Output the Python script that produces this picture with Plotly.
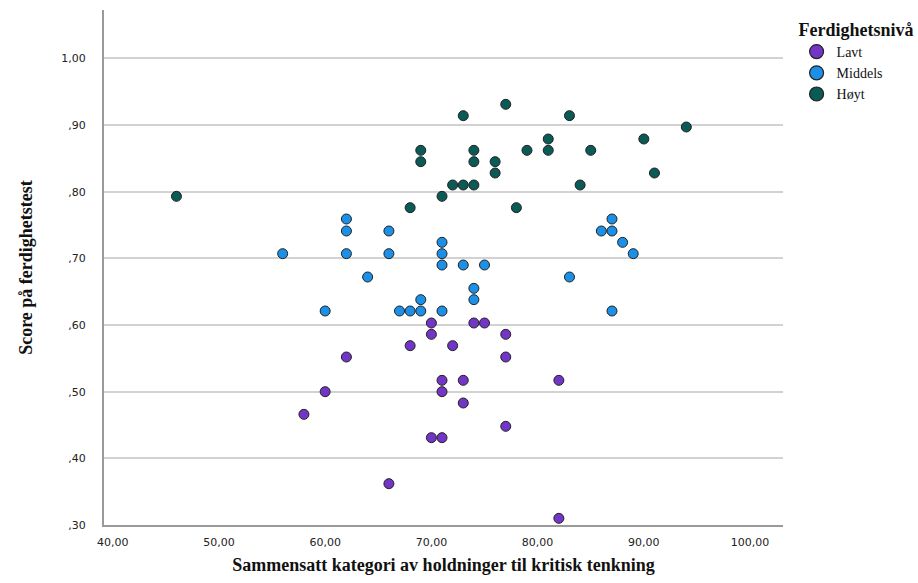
import plotly.graph_objects as go

# ---- data ----
lavt_x = [70, 74, 75, 70, 77, 68, 72, 62, 77, 71, 73, 82, 60, 71, 73, 58, 77, 70, 71, 66, 82]
lavt_y = [.603, .603, .603, .586, .586, .569, .569, .552, .552, .517, .517, .517, .500, .500,
          .483, .466, .448, .431, .431, .362, .310]

middels_x = [62, 62, 66, 71, 56, 62, 66, 71, 71, 73, 75, 64, 74, 74, 69, 60, 67, 68, 69, 71,
             87, 86, 87, 88, 89, 83, 87]
middels_y = [.759, .741, .741, .724, .707, .707, .707, .707, .690, .690, .690, .672, .655, .638,
             .638, .621, .621, .621, .621, .621, .759, .741, .741, .724, .707, .672, .621]

hoyt_x = [77, 73, 83, 94, 81, 90, 69, 74, 79, 81, 85, 69, 74, 76, 76, 91, 72, 73, 74, 84,
          46, 71, 68, 78]
hoyt_y = [.931, .914, .914, .897, .879, .879, .862, .862, .862, .862, .862, .845, .845, .845,
          .828, .828, .810, .810, .810, .810, .793, .793, .776, .776]

groups = ["Lavt", "Middels", "Høyt"]
colors = ["#7235C6", "#1C8FE6", "#0A5A55"]

x_ticks = [40, 50, 60, 70, 80, 90, 100]
x_ticklabels = ["40,00", "50,00", "60,00", "70,00", "80,00", "90,00", "100,00"]
y_ticks = [0.3, 0.4, 0.5, 0.6, 0.7, 0.8, 0.9, 1.0]
y_ticklabels = [",30", ",40", ",50", ",60", ",70", ",80", ",90", "1,00"]

serif = "Times New Roman, Liberation Serif, DejaVu Serif, serif"
sans = "DejaVu Sans"

fig = go.Figure()
series = [(lavt_x, lavt_y), (middels_x, middels_y), (hoyt_x, hoyt_y)]
for name, col, (xs, ys) in zip(groups, colors, series):
    fig.add_trace(go.Scatter(
        x=xs, y=ys, mode="markers", name=name, legendgroup=name, showlegend=False,
        marker=dict(size=10, color=col, line=dict(color="#222222", width=1)),
        hoverinfo="x+y+name"))
    # legend-only entry with a larger symbol, as in the reference legend
    fig.add_trace(go.Scatter(
        x=[None], y=[None], mode="markers", name=name, legendgroup=name, showlegend=True,
        marker=dict(size=14, color=col, line=dict(color="#222222", width=1.2))))

fig.update_layout(
    width=918, height=583,
    margin=dict(l=104, r=135, t=10, b=58, autoexpand=False),
    paper_bgcolor="white", plot_bgcolor="white",
    showlegend=True,
    font=dict(family=serif),
    legend=dict(
        x=1.02, y=0.995, xanchor="left", yanchor="top",
        title=dict(text="<b>Ferdighetsnivå</b>", font=dict(family=serif, size=18, color="#111")),
        font=dict(family=serif, size=14, color="#111"),
        tracegroupgap=0, itemwidth=30, bgcolor="rgba(0,0,0,0)",
    ),
    xaxis=dict(
        range=[39.18, 103.1], tickvals=x_ticks, ticktext=x_ticklabels,
        showgrid=False, zeroline=False, showline=True, linecolor="#9a9a9a", linewidth=2,
        ticks="", tickfont=dict(family=sans, size=11, color="#222"),
        ticklabelstandoff=6,
        title=dict(text="<b>Sammensatt kategori av holdninger til kritisk tenkning</b>",
                   font=dict(family=serif, size=18, color="#111"), standoff=10),
    ),
    yaxis=dict(
        range=[0.30, 1.0725], tickvals=y_ticks, ticktext=y_ticklabels,
        showgrid=True, gridcolor="#d2d2d2", gridwidth=1.5,
        zeroline=False, showline=True, linecolor="#9a9a9a", linewidth=2,
        ticks="", tickfont=dict(family=sans, size=11, color="#222"),
        ticklabelstandoff=14,
        title=dict(text="<b>Score på ferdighetstest</b>",
                   font=dict(family=serif, size=18, color="#111"), standoff=24),
    ),
)

fig.write_html("out.html")
